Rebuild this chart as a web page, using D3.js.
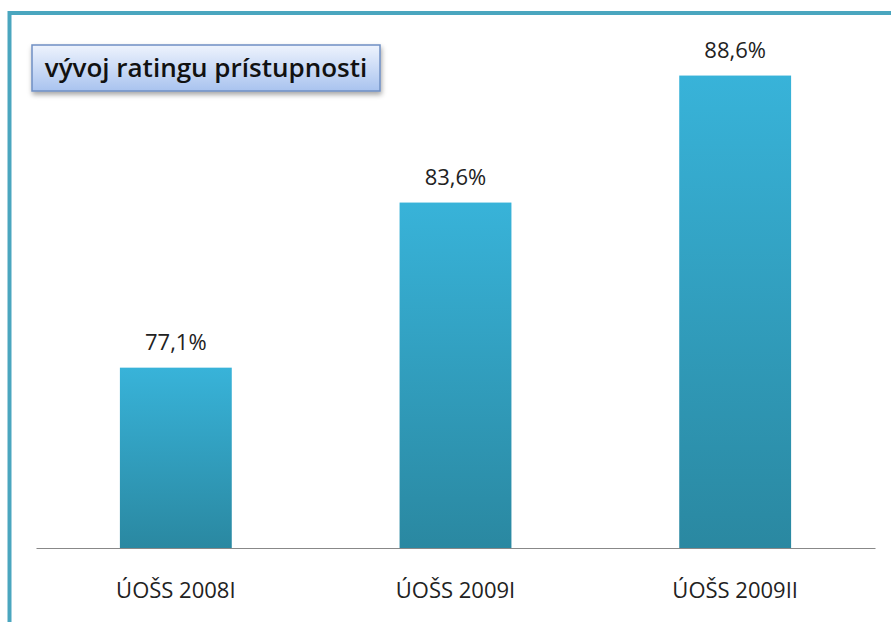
<!DOCTYPE html>
<html>
<head>
<meta charset="utf-8">
<script src="https://cdn.jsdelivr.net/npm/d3@7"></script>
<style>
  body { margin: 0; background: #fff; }
  svg { display: block; }
</style>
</head>
<body>
<div id="chart"></div>
<script>
// data
const categories = ["ÚOŠS 2008I", "ÚOŠS 2009I", "ÚOŠS 2009II"];
const values = [77.1, 83.6, 88.6];
const valueLabels = ["77,1%", "83,6%", "88,6%"];
const title = "vývoj ratingu prístupnosti";

const W = 891, H = 622;
const margin = { top: 40, right: 16, bottom: 74, left: 36 },
  width = W - margin.left - margin.right,
  height = H - margin.top - margin.bottom;

const svg = d3.select("#chart")
  .append("svg")
  .attr("width", W)
  .attr("height", H);

const defs = svg.append("defs");

// bar gradient
const barGrad = defs.append("linearGradient")
  .attr("id", "barGrad")
  .attr("x1", 0).attr("y1", 0).attr("x2", 0).attr("y2", 1);
barGrad.append("stop").attr("offset", "0%").attr("stop-color", "#38b3d9");
barGrad.append("stop").attr("offset", "100%").attr("stop-color", "#2a88a1");

// title box gradient
const boxGrad = defs.append("linearGradient")
  .attr("id", "boxGrad")
  .attr("x1", 0).attr("y1", 0).attr("x2", 0).attr("y2", 1);
boxGrad.append("stop").attr("offset", "0%").attr("stop-color", "#eef3fd");
boxGrad.append("stop").attr("offset", "100%").attr("stop-color", "#a9c3ef");

const shadow = defs.append("filter")
  .attr("id", "shadow")
  .attr("x", "-10%").attr("y", "-20%").attr("width", "130%").attr("height", "160%");
shadow.append("feDropShadow")
  .attr("dx", 1).attr("dy", 3).attr("stdDeviation", 2.5)
  .attr("flood-color", "#000").attr("flood-opacity", 0.35);

// frame round the chart
svg.append("path")
  .attr("d", `M9.5,${H} V13 H${W}`)
  .attr("fill", "none")
  .attr("stroke", "#4aa6bf")
  .attr("stroke-width", 4);

const g = svg.append("g")
  .attr("transform", `translate(${margin.left},${margin.top})`);

// scales
const x = d3.scaleBand()
  .domain(categories)
  .range([0, width])
  .paddingInner(0.6)
  .paddingOuter(0.3);

const y = d3.scaleLinear()
  .domain([70, 90])
  .range([height, 0]);

// bars
g.selectAll("rect.bar")
  .data(values)
  .join("rect")
  .attr("class", "bar")
  .attr("x", (d, i) => x(categories[i]))
  .attr("y", d => y(d))
  .attr("width", x.bandwidth())
  .attr("height", d => height - y(d))
  .attr("fill", "url(#barGrad)");

// value labels
g.selectAll("text.val")
  .data(values)
  .join("text")
  .attr("class", "val")
  .attr("x", (d, i) => x(categories[i]) + x.bandwidth() / 2)
  .attr("y", d => y(d) - 18)
  .attr("text-anchor", "middle")
  .attr("font-family", "Open Sans, sans-serif")
  .attr("font-size", 22)
  .attr("fill", "#222")
  .text((d, i) => valueLabels[i]);

// x axis
const xAxis = g.append("g")
  .attr("transform", `translate(0,${height})`)
  .call(d3.axisBottom(x).tickSize(0).tickPadding(34));
xAxis.select(".domain").attr("stroke", "#888").attr("stroke-width", 1.2);
xAxis.selectAll("text")
  .attr("font-family", "Open Sans, sans-serif")
  .attr("font-size", 22)
  .attr("fill", "#222");

// title box
const tb = svg.append("g").attr("transform", "translate(32,45)");
tb.append("rect")
  .attr("width", 348)
  .attr("height", 46)
  .attr("fill", "url(#boxGrad)")
  .attr("stroke", "#6f8fc3")
  .attr("stroke-width", 1.5)
  .attr("filter", "url(#shadow)");
tb.append("text")
  .attr("x", 205)
  .attr("y", 32)
  .attr("text-anchor", "middle")
  .attr("font-family", "Open Sans, sans-serif")
  .attr("font-weight", 600)
  .attr("font-size", 26)
  .attr("fill", "#111")
  .attr("x", 174)
  .text(title);
</script>
</body>
</html>
